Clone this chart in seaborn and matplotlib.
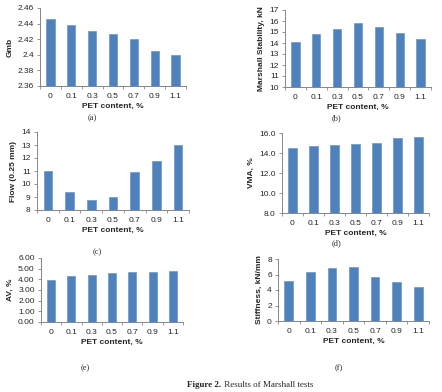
import matplotlib
matplotlib.use("Agg")
import matplotlib.pyplot as plt
import seaborn as sns
import numpy as np

pet = ["0", "0.1", "0.3", "0.5", "0.7", "0.9", "1.1"]
gmb = [2.446, 2.438, 2.431, 2.427, 2.420, 2.405, 2.400]
stability = [14.1, 14.8, 15.3, 15.8, 15.5, 14.9, 14.4]
flow = [11.0, 9.4, 8.8, 9.0, 10.9, 11.8, 13.0]
vma = [14.5, 14.7, 14.85, 14.9, 15.05, 15.5, 15.6]
av = [3.98, 4.28, 4.45, 4.55, 4.65, 4.72, 4.82]
stiffness = [5.1, 6.3, 6.9, 7.0, 5.7, 5.0, 4.4]

sns.set_style("white")
plt.rcParams['font.family'] = ['Liberation Sans', 'DejaVu Sans']

W, H = 442, 392
fig = plt.figure(figsize=(W / 100, H / 100), dpi=100)
BAR = "#4F81BD"
GRAY = "#868686"

panels = [
    (gmb, "Gmb", (2.36, 2.46), np.arange(2.36, 2.461, 0.02), "g", (40, 186, 8, 86), "(a)", (92, 118)),
    (stability, "Marshall Stability, kN", (10, 17), np.arange(10, 17.1, 1), "g", (285, 431, 10, 87), "(b)", (336, 118)),
    (flow, "Flow (0.25 mm)", (8, 14), np.arange(8, 14.1, 1), "g", (37, 189, 132, 210), "(c)", (97, 252)),
    (vma, "VMA, %", (8, 16), np.arange(8, 16.1, 2), ".1f", (282, 429, 133, 213), "(d)", (336, 243)),
    (av, "AV, %", (0, 6), np.arange(0, 6.01, 1), ".2f", (41, 183, 258, 322), "(e)", (85, 368)),
    (stiffness, "Stiffness, kN/mm", (0, 8), np.arange(0, 8.1, 2), "g", (278, 429, 259, 321), "(f)", (339, 368)),
]

for vals, ylab, ylim, yt, fmt, (l, r, t, b), sub, (sx, sy) in panels:
    ax = fig.add_axes([l / W, 1 - b / H, (r - l) / W, (b - t) / H])
    sns.barplot(x=pet, y=vals, ax=ax, color=BAR, width=0.4, order=pet,
                saturation=1, edgecolor="#5b8cc6", linewidth=0.4)
    ax.set_ylim(*ylim)
    ax.set_xlim(-0.5, 6.5)
    ax.set_yticks(yt)
    ax.set_yticklabels([format(v, fmt) for v in yt], fontsize=6)
    ax.set_xticks(range(7))
    ax.set_xticklabels(pet, fontsize=6)
    ax.set_xticks(np.arange(-0.5, 7, 1), minor=True)
    ax.tick_params(axis="x", which="major", length=0, pad=5)
    ax.tick_params(axis="x", which="minor", length=2.5, width=0.6, color=GRAY, direction="out", bottom=True)
    ax.tick_params(axis="y", length=2.5, width=0.6, color=GRAY, direction="out", left=True, pad=2)
    for s in ["top", "right"]:
        ax.spines[s].set_visible(False)
    for s in ["left", "bottom"]:
        ax.spines[s].set_color(GRAY)
        ax.spines[s].set_linewidth(0.7)
    ax.set_ylabel(ylab, fontsize=6, fontweight="bold", labelpad=3)
    ax.set_xlabel("PET content, %", fontsize=6, fontweight="bold", labelpad=2)
    fig.text(sx / W, 1 - sy / H, sub, fontsize=6, family="Liberation Serif",
             ha="center", va="center")

fig.text(221 / W, 1 - 385 / H, "Figure 2.", fontsize=6.5, family="Liberation Serif",
         fontweight="bold", ha="right", va="center")
fig.text(222 / W, 1 - 385 / H, " Results of Marshall tests", fontsize=6.5,
         family="Liberation Serif", ha="left", va="center")

fig.savefig("out.png", dpi=100)
